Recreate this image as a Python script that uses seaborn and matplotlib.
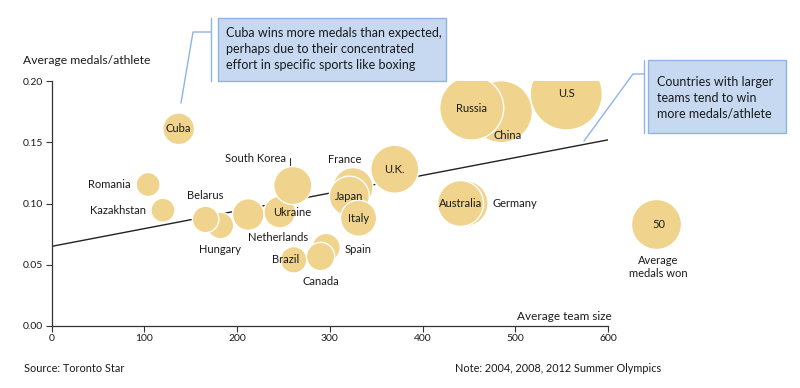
"""Olympic medals per athlete vs team size, bubble chart."""

import matplotlib

matplotlib.use("Agg")

import matplotlib.pyplot as plt  # noqa: E402
import pandas as pd  # noqa: E402
import seaborn as sns  # noqa: E402
from matplotlib.lines import Line2D  # noqa: E402
from matplotlib.patches import Rectangle  # noqa: E402

# ------------------------------------------------------------------
#  Data
# ------------------------------------------------------------------

countries = [
    "Cuba", "Romania", "Kazakhstan", "Hungary", "Belarus", "Netherlands",
    "Ukraine", "South Korea", "Brazil", "Spain", "Canada", "France",
    "Japan", "Italy", "U.K.", "Germany", "Australia", "China", "Russia", "U.S",
]
team_size = [
    137, 104, 120, 182, 166, 212,
    246, 260, 261, 296, 290, 325,
    321, 331, 370, 446, 441, 485, 453, 555,
]
medals_per_athlete = [
    0.161, 0.1155, 0.0945, 0.082, 0.087, 0.091,
    0.093, 0.1147, 0.054, 0.064, 0.0567, 0.113,
    0.106, 0.088, 0.128, 0.100, 0.100, 0.175, 0.178, 0.1895,
]
avg_medals = [
    20, 11.5, 11.5, 14, 14, 20,
    20, 29, 14, 16, 16, 32,
    32, 26, 46, 42, 42, 77, 82, 104,
]

trend_x = [0, 600]
trend_y = [0.065, 0.152]

legend_medals = 50

# ------------------------------------------------------------------
#  Style
# ------------------------------------------------------------------

BUBBLE = "#F0D38C"
BOX_FILL = "#C6D9F1"
BOX_EDGE = "#8EB4E3"
TEXT = "#1a1a1a"
FONT = ["Lato", "DejaVu Sans"]

sns.set_theme(style="white")
plt.rcParams["font.family"] = FONT

# marker area (pt^2) per medal: 50 medals -> 25 px radius at 100 dpi
K = (2 * 25 * 0.72) ** 2 / legend_medals

# label offsets in pixels, and alignment
label_pos = {
    "Cuba": (0, 0, "center"),
    "Romania": (-17, 0, "right"),
    "Kazakhstan": (-17, 0, "right"),
    "Belarus": (0, 24, "center"),
    "Hungary": (0, -24, "center"),
    "Netherlands": (30, -23, "center"),
    "Ukraine": (12, 0, "center"),
    "South Korea": (-7, 27, "right"),
    "Brazil": (-8, 0, "center"),
    "Spain": (18, -2, "left"),
    "Canada": (0, -25, "center"),
    "France": (-8, 28, "center"),
    "Japan": (0, 0, "center"),
    "Italy": (0, 0, "center"),
    "U.K.": (0, 0, "center"),
    "Germany": (27, 0, "left"),
    "Australia": (0, 0, "center"),
    "China": (6, -24, "center"),
    "Russia": (0, 0, "center"),
    "U.S": (0, 0, "center"),
}

df = pd.DataFrame({
    "country": countries,
    "team": team_size,
    "rate": medals_per_athlete,
    "medals": avg_medals,
})

fig = plt.figure(figsize=(8, 3.88), dpi=100)
ax = fig.add_axes([0.0646, 0.160, 0.6954, 0.631])


def fx(px):
    return px / 800


def fy(py):
    return 1 - py / 388


# trend line behind the bubbles
sns.lineplot(x=trend_x, y=trend_y, ax=ax, color="#222222", lw=1.0, zorder=1)

sns.scatterplot(
    data=df, x="team", y="rate", size="medals",
    sizes=(min(avg_medals) * K, max(avg_medals) * K),
    size_norm=(min(avg_medals), max(avg_medals)),
    color=BUBBLE, edgecolor="white", linewidth=1.0, alpha=1,
    legend=False, ax=ax, zorder=2,
)

for name, xv, yv in zip(countries, team_size, medals_per_athlete):
    dx, dy, ha = label_pos[name]
    ax.annotate(
        name, (xv, yv), xytext=(dx, dy), textcoords="offset pixels",
        ha=ha, va="center", fontsize=8, color=TEXT, zorder=5,
    )

# little tick from the South Korea label down toward its bubble
fig.add_artist(Line2D([fx(290), fx(290)], [fy(158), fy(165)],
                      color="#333333", lw=0.8))

# size legend bubble, outside the axes
sns.scatterplot(
    x=[652], y=[0.083], s=legend_medals * K, color=BUBBLE,
    edgecolor="white", linewidth=1.0, ax=ax, clip_on=False, zorder=2,
)
ax.annotate(str(legend_medals), (652, 0.083), xytext=(3, 0),
            textcoords="offset pixels", ha="center", va="center",
            fontsize=8, color=TEXT, annotation_clip=False)
ax.annotate("Average\nmedals won", (652, 0.083), xytext=(2, -43),
            textcoords="offset pixels", ha="center", va="center",
            fontsize=8, color=TEXT, linespacing=1.2, annotation_clip=False)

ax.set_xlim(0, 600)
ax.set_ylim(0, 0.2)
ax.set_xticks(range(0, 601, 100))
ax.set_yticks([0, 0.05, 0.10, 0.15, 0.20])
ax.set_yticklabels([f"{v:.2f}" for v in [0, 0.05, 0.10, 0.15, 0.20]])
ax.tick_params(direction="out", length=4, width=0.8, colors="#333333",
               labelsize=7.5, labelcolor=TEXT, pad=2,
               bottom=True, left=True)
ax.set_xlabel("")
ax.set_ylabel("")
for side in ("top", "right"):
    ax.spines[side].set_visible(False)
for side in ("left", "bottom"):
    ax.spines[side].set_color("#333333")
    ax.spines[side].set_linewidth(0.9)

fig.text(fx(23), fy(61), "Average medals/athlete", fontsize=8.7,
         color=TEXT, va="center", ha="left")
fig.text(fx(612), fy(316), "Average team size", fontsize=8.5,
         color=TEXT, va="center", ha="right")
fig.text(fx(24), fy(368), "Source: Toronto Star", fontsize=7.8,
         color=TEXT, va="center", ha="left")
fig.text(fx(455), fy(368), "Note: 2004, 2008, 2012 Summer Olympics",
         fontsize=7.8, color=TEXT, va="center", ha="left")

# ------------------------------------------------------------------
#  Callout boxes
# ------------------------------------------------------------------


def callout(x0, y0, x1, y1, bracket_x, elbow, tip, lines, tx, ty0):
    fig.add_artist(Rectangle((fx(x0), fy(y1)), fx(x1 - x0), (y1 - y0) / 388,
                             facecolor=BOX_FILL, edgecolor=BOX_EDGE, lw=1.0))
    fig.add_artist(Line2D([fx(bracket_x)] * 2, [fy(y0), fy(y1)],
                          color=BOX_EDGE, lw=1.0))
    fig.add_artist(Line2D([fx(bracket_x), fx(elbow[0]), fx(tip[0])],
                          [fy(elbow[1]), fy(elbow[1]), fy(tip[1])],
                          color=BOX_EDGE, lw=1.0))
    for i, line in enumerate(lines):
        fig.text(fx(tx), fy(ty0 + 16 * i), line, fontsize=9, color=TEXT,
                 va="center", ha="left")


callout(218, 18, 446, 81, 211, (193, 32), (181, 103),
        ["Cuba wins more medals than expected,",
         "perhaps due to their concentrated",
         "effort in specific sports like boxing"],
        226, 33)
callout(648, 60, 786, 133, 644, (633, 74), (584, 141),
        ["Countries with larger", "teams tend to win", "more medals/athlete"],
        657, 82)

fig.savefig("out.png", dpi=100)
